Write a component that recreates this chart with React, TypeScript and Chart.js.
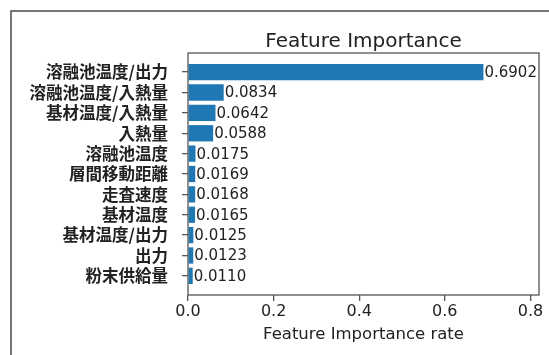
import { useEffect, useRef } from "react";
import { Chart, registerables } from "chart.js";

Chart.register(...registerables);

const features = [
  "溶融池温度/出力",
  "溶融池温度/入熱量",
  "基材温度/入熱量",
  "入熱量",
  "溶融池温度",
  "層間移動距離",
  "走査速度",
  "基材温度",
  "基材温度/出力",
  "出力",
  "粉末供給量",
];
const importance = [0.6902, 0.0834, 0.0642, 0.0588, 0.0175, 0.0169, 0.0168, 0.0165, 0.0125, 0.0123, 0.011];
const xTicks = [0, 0.2, 0.4, 0.6, 0.8];
const chartTitle = "Feature Importance";
const xAxisTitle = "Feature Importance rate";

const LATIN = '"DejaVu Sans", sans-serif';
const CJK = '"Noto Sans CJK JP", "DejaVu Sans", sans-serif';
const TEXT = "#222";
const LINE = "#555";

// Page border (top and left rules) behind the figure
const pageFrame = {
  id: "pageFrame",
  beforeDraw(chart: any) {
    const ctx = chart.ctx;
    ctx.save();
    ctx.strokeStyle = "#4a4a4a";
    ctx.lineWidth = 1.5;
    ctx.beginPath();
    ctx.moveTo(11, chart.height);
    ctx.lineTo(11, 11);
    ctx.lineTo(chart.width, 11);
    ctx.stroke();
    ctx.restore();
  },
};

// Axes frame, title and value labels at the bar ends
const decorations = {
  id: "decorations",
  afterDatasetsDraw(chart: any) {
    const ctx = chart.ctx;
    const a = chart.chartArea;
    ctx.save();
    ctx.strokeStyle = LINE;
    ctx.lineWidth = 1.3;
    ctx.strokeRect(a.left, a.top, a.right - a.left, a.bottom - a.top);

    ctx.fillStyle = TEXT;
    ctx.font = `20px ${LATIN}`;
    ctx.textAlign = "center";
    ctx.textBaseline = "alphabetic";
    ctx.fillText(chartTitle, (a.left + a.right) / 2, 47);

    ctx.font = `15px ${LATIN}`;
    ctx.textAlign = "left";
    ctx.textBaseline = "middle";
    const meta = chart.getDatasetMeta(0);
    meta.data.forEach((bar: any, i: number) => {
      ctx.fillText(importance[i].toFixed(4), bar.x + 1, bar.y + 1);
    });
    ctx.restore();
  },
};

export default function App() {
  const ref = useRef<HTMLCanvasElement>(null);

  useEffect(() => {
    if (!ref.current) return;
    const chart = new Chart(ref.current, {
      type: "bar",
      data: {
        datasets: [
          {
            data: importance.map((v, i) => ({ x: v, y: i })),
            backgroundColor: "#1f77b4",
            borderWidth: 0,
            barPercentage: 0.8,
            categoryPercentage: 1,
          },
        ],
      },
      options: {
        indexAxis: "y",
        animation: false,
        responsive: false,
        maintainAspectRatio: false,
        layout: { padding: { left: 0, right: 10, top: 53, bottom: 0 } },
        plugins: {
          legend: { display: false },
          tooltip: { enabled: false },
          title: { display: false },
        },
        scales: {
          x: {
            type: "linear",
            position: "bottom",
            min: 0,
            max: 0.82,
            afterBuildTicks: (s: any) => {
              s.ticks = xTicks.map((v) => ({ value: v }));
            },
            afterFit: (s: any) => {
              s.height = 60;
            },
            ticks: {
              callback: (v: any) => Number(v).toFixed(1),
              font: { family: LATIN, size: 16 },
              color: TEXT,
              padding: 1,
              maxRotation: 0,
              autoSkip: false,
            },
            grid: { drawOnChartArea: false, drawTicks: true, tickLength: 6, color: LINE, lineWidth: 1.3 },
            border: { display: false },
            title: {
              display: true,
              text: xAxisTitle,
              font: { family: LATIN, size: 16.5 },
              color: TEXT,
              padding: { top: 0, bottom: 10 },
            },
          },
          y: {
            type: "linear",
            offset: false,
            min: -0.94,
            max: 10.94,
            reverse: true,
            afterBuildTicks: (s: any) => {
              s.ticks = features.map((_, i) => ({ value: i }));
            },
            afterFit: (s: any) => {
              s.width = 188;
            },
            ticks: {
              callback: (v: any) => features[v] ?? "",
              font: { family: CJK, size: 16.5, weight: "bold" },
              color: TEXT,
              padding: 14,
              autoSkip: false,
            },
            grid: {
              offset: false,
              drawOnChartArea: false,
              drawTicks: true,
              tickLength: 6,
              color: LINE,
              lineWidth: 1.3,
            },
            border: { display: false },
          },
        },
      },
      plugins: [pageFrame, decorations],
    } as any);
    return () => chart.destroy();
  }, []);

  return (
    <div style={{ position: "absolute", left: 0, top: 0, width: 549, height: 355, background: "#fff" }}>
      <canvas ref={ref} width={549} height={355} style={{ display: "block" }} />
    </div>
  );
}
